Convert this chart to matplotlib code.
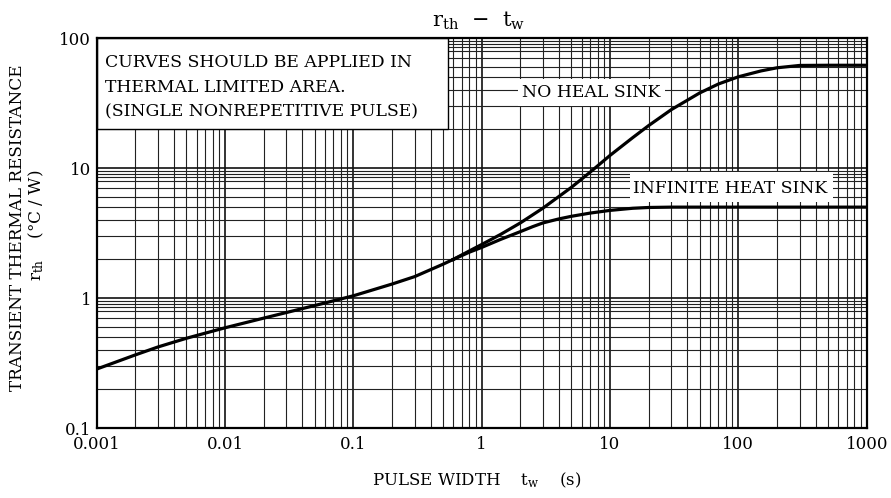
import numpy as np
import matplotlib
matplotlib.use("Agg")
import matplotlib.pyplot as plt
from matplotlib.patches import Rectangle
from matplotlib.ticker import FixedLocator, FixedFormatter, NullFormatter

plt.rcParams['font.family'] = ['DejaVu Serif']
plt.rcParams['mathtext.fontset'] = 'dejavuserif'

# ---- data ----
x_common = [0.001, 0.002, 0.003, 0.005, 0.01, 0.02, 0.05, 0.1, 0.2, 0.3, 0.5, 0.6]
y_common = [0.284, 0.365, 0.42, 0.49, 0.59, 0.70, 0.875, 1.04, 1.28, 1.46, 1.82, 1.98]

x_no_sink = [0.6, 0.8, 1.0, 1.4, 2.0, 3.0, 5.0, 7.0, 10, 15, 20, 30, 50, 70, 100, 150, 200, 300, 500, 1000]
y_no_sink = [1.98, 2.3, 2.58, 3.08, 3.78, 4.91, 7.10, 9.29, 12.5, 17.1, 21.2, 28.1, 37.8, 44.3, 50.3, 55.8, 59.0, 61.5, 61.7, 61.7]

x_inf_sink = [0.6, 0.8, 1.0, 1.4, 2.0, 2.5, 3.0, 4.0, 5.0, 7.0, 10, 15, 20, 30, 1000]
y_inf_sink = [1.98, 2.25, 2.45, 2.82, 3.24, 3.54, 3.78, 4.06, 4.25, 4.5, 4.72, 4.9, 4.97, 5.0, 5.0]

x_ticks = [0.001, 0.01, 0.1, 1, 10, 100, 1000]
x_tick_labels = ["0.001", "0.01", "0.1", "1", "10", "100", "1000"]
y_ticks = [0.1, 1, 10, 100]
y_tick_labels = ["0.1", "1", "10", "100"]
y_minor_mantissas = [2, 3, 4, 5, 6, 7, 8, 8.5, 9, 9.5]

title_text = r"$\mathrm{r_{th}}$  $-$  $\mathrm{t_{w}}$"
xlabel_text = r"PULSE WIDTH    $\mathrm{t_{w}}$    (s)"
ylabel_line1 = "TRANSIENT THERMAL RESISTANCE"
ylabel_line2 = r"$\mathrm{r_{th}}$    (°C / W)"
note_lines = ["CURVES SHOULD BE APPLIED IN",
              "THERMAL LIMITED AREA.",
              "(SINGLE NONREPETITIVE PULSE)"]
label_no_sink = "NO HEAL SINK"
label_inf_sink = "INFINITE HEAT SINK"

# ---- figure ----
W, H = 891, 498
fig = plt.figure(figsize=(W / 100, H / 100), dpi=100)
L, R, T, B = 96.7, 866.7, 38.0, 428.0
ax = fig.add_axes([L / W, 1 - B / H, (R - L) / W, (B - T) / H])
ax.set_xscale('log')
ax.set_yscale('log')
ax.set_xlim(0.001, 1000)
ax.set_ylim(0.1, 100)

ax.xaxis.set_major_locator(FixedLocator(x_ticks))
ax.xaxis.set_major_formatter(FixedFormatter(x_tick_labels))
ax.yaxis.set_major_locator(FixedLocator(y_ticks))
ax.yaxis.set_major_formatter(FixedFormatter(y_tick_labels))
x_minor = [m * d for d in x_ticks[:-1] for m in range(2, 10)]
y_minor = [m * d for d in y_ticks[:-1] for m in y_minor_mantissas]
ax.xaxis.set_minor_locator(FixedLocator(x_minor))
ax.yaxis.set_minor_locator(FixedLocator(y_minor))
ax.xaxis.set_minor_formatter(NullFormatter())
ax.yaxis.set_minor_formatter(NullFormatter())

ax.tick_params(which='both', length=0, labelsize=12)
ax.tick_params(axis='x', pad=6)
ax.tick_params(axis='y', pad=4)

ax.grid(which='major', color='#111111', linewidth=1.2)
ax.grid(which='minor', color='#222222', linewidth=0.8)
ax.set_axisbelow(True)
for s in ax.spines.values():
    s.set_linewidth(1.6)
    s.set_zorder(10)

# curves
ax.plot(x_common, y_common, color='black', lw=2.3, solid_joinstyle='round', zorder=5)
ax.plot(x_no_sink, y_no_sink, color='black', lw=2.3, solid_joinstyle='round', zorder=5)
ax.plot(x_inf_sink, y_inf_sink, color='black', lw=2.3, solid_joinstyle='round', zorder=5)

def fx(px):
    return (px - L) / (R - L)

def fy(py):
    return (B - py) / (B - T)

# note box
ax.add_patch(Rectangle((fx(L), fy(129)), fx(448) - fx(L), fy(T) - fy(129),
                       transform=ax.transAxes, facecolor='white', edgecolor='black',
                       linewidth=1.0, zorder=6))
for line, base in zip(note_lines, [66.7, 91.7, 116.7]):
    ax.text(fx(105), fy(base), line, transform=ax.transAxes, fontsize=12.4,
            ha='left', va='baseline', zorder=7)

# curve labels
ax.add_patch(Rectangle((fx(518), fy(106)), fx(665) - fx(518), fy(79) - fy(106),
                       transform=ax.transAxes, facecolor='white', edgecolor='none', zorder=6))
ax.text(fx(521.7), fy(97.3), label_no_sink, transform=ax.transAxes, fontsize=12.4,
        ha='left', va='baseline', zorder=7)
ax.add_patch(Rectangle((fx(630), fy(201.7)), fx(833) - fx(630), fy(171.7) - fy(201.7),
                       transform=ax.transAxes, facecolor='white', edgecolor='none', zorder=6))
ax.text(fx(632.7), fy(193.3), label_inf_sink, transform=ax.transAxes, fontsize=12.4,
        ha='left', va='baseline', zorder=7)

# titles / labels
fig.text(478 / W, 1 - 27 / H, title_text, ha='center', va='baseline', fontsize=15)
fig.text(477 / W, 1 - 485 / H, xlabel_text, ha='center', va='baseline', fontsize=12)
fig.text(18 / W, 1 - 228 / H, ylabel_line1, rotation=90, ha='center', va='center', fontsize=12.2)
fig.text(36 / W, 1 - 225 / H, ylabel_line2, rotation=90, ha='center', va='center', fontsize=12.2)

fig.savefig("out.png", dpi=100)
